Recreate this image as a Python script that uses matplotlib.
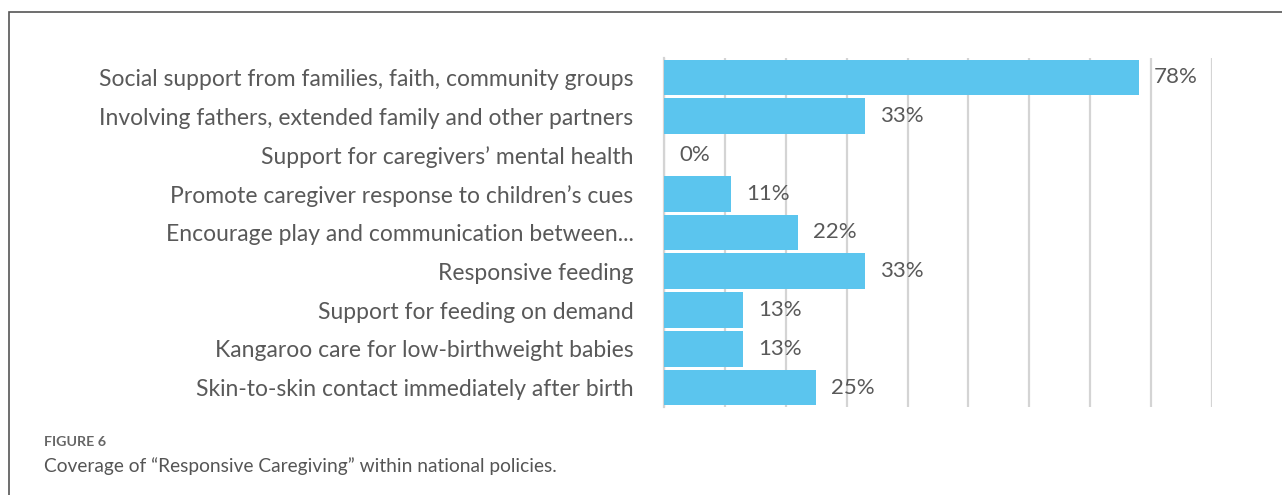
import matplotlib.pyplot as plt
from matplotlib.patches import Rectangle
import numpy as np

# Policy coverage per responsive caregiving component (share of policies).
categories = [
    "Social support from families, faith, community groups",
    "Involving fathers, extended family and other partners",
    "Support for caregivers\u2019 mental health",
    "Promote caregiver response to children\u2019s cues",
    "Encourage play and communication between...",
    "Responsive feeding",
    "Support for feeding on demand",
    "Kangaroo care for low-birthweight babies",
    "Skin-to-skin contact immediately after birth",
]
coverage = [0.78, 0.33, 0.0, 0.11, 0.22, 0.33, 0.13, 0.13, 0.25]

fig_title = "FIGURE 6"
fig_caption = "Coverage of \u201cResponsive Caregiving\u201d within national policies."

W, H, DPI = 1282, 495, 100
BAR_COLOR = "#5bc5ee"
TEXT_COLOR = "#595959"
GRID_COLOR = "#d4d4d4"

plt.rcParams['font.family'] = ['Lato', 'DejaVu Sans']

fig = plt.figure(figsize=(W / DPI, H / DPI), dpi=DPI)

# Outer frame: only the top and left edges fall inside the image.
frame = Rectangle((9 / W, -0.1), 1.2, 1 - 12 / H + 0.1, transform=fig.transFigure,
                  fill=False, edgecolor="#555555", linewidth=1.2)
fig.patches.append(frame)

ax = fig.add_axes([664 / W, 1 - 407 / H, (1212 - 664) / W, (407 - 58) / H])

y = np.arange(len(categories))
ax.barh(y, coverage, height=0.92, color=BAR_COLOR, zorder=3)
ax.set_ylim(len(categories) - 0.5, -0.5)
ax.set_xlim(0, 0.9)

ax.set_xticks(np.arange(0, 0.91, 0.1))
ax.xaxis.grid(True, color=GRID_COLOR, linewidth=1.6, zorder=0)
ax.tick_params(axis='x', length=0, labelbottom=False)
ax.tick_params(axis='y', length=0, pad=22)
ax.set_yticks(y)
ax.set_yticklabels(categories, fontsize=16.5, color=TEXT_COLOR)
for side in ['top', 'right', 'bottom']:
    ax.spines[side].set_visible(False)
ax.spines['left'].set_color(GRID_COLOR)
ax.spines['left'].set_linewidth(1.6)

# Value labels to the right of each bar.
for yi, v in zip(y, coverage):
    ax.annotate("{:.0%}".format(v), xy=(v, yi), xytext=(15, 0), textcoords='offset pixels',
                va='center', ha='left', fontsize=16, color=TEXT_COLOR, zorder=4)

fig.text(44 / W, 1 - 442 / H, fig_title, fontsize=10.3, fontweight='bold',
         color="#666666", va='center', ha='left')
fig.text(44 / W, 1 - 466 / H, fig_caption, fontsize=13.8,
         color="#555555", va='center', ha='left')

fig.savefig("out.png", dpi=DPI, facecolor='white')
